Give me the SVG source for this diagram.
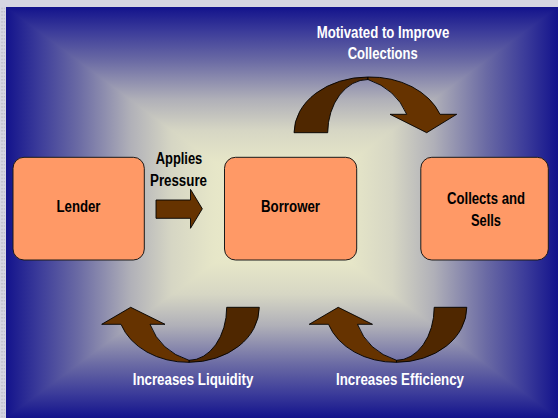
<svg xmlns="http://www.w3.org/2000/svg" width="558" height="418" viewBox="0 0 558 418">
  <defs>
    <!-- rectangular "from centre" backdrop: four triangles, each shaded from its edge to the centre -->
    <linearGradient id="bgTop" gradientUnits="userSpaceOnUse" x1="0" y1="7" x2="0" y2="212.5">
      <stop offset="0" stop-color="#13138c"/>
      <stop offset="0.12" stop-color="#3c3c9a"/>
      <stop offset="0.26" stop-color="#6a6aa4"/>
      <stop offset="0.45" stop-color="#b0b0b8"/>
      <stop offset="0.6" stop-color="#d6d6c4"/>
      <stop offset="0.75" stop-color="#e6e6c8"/>
      <stop offset="1" stop-color="#f0f0cc"/>
    </linearGradient>
    <linearGradient id="bgBottom" href="#bgTop" gradientUnits="userSpaceOnUse" x1="0" y1="418" x2="0" y2="212.5"/>
    <linearGradient id="bgLeft" href="#bgTop" gradientUnits="userSpaceOnUse" x1="6" y1="0" x2="282" y2="0"/>
    <linearGradient id="bgRight" href="#bgTop" gradientUnits="userSpaceOnUse" x1="558" y1="0" x2="282" y2="0"/>
    <pattern id="dots" patternUnits="userSpaceOnUse" x="0" y="0" width="6" height="3.4">
      <rect x="1.5" y="1" width="1" height="1.2" fill="#a8a8b4"/>
      <rect x="3.8" y="1" width="1" height="1.2" fill="#b4b4c0"/>
    </pattern>
    <!-- curved band arrow, dipping under and pointing up on the left -->
    <g id="curveArrowBL">
      <path class="back" d="M259.3,307.3 A70.3,55 0 0 1 189,362.3 L189,360.3 A37.7,53 0 0 0 226.7,307.3 Z"/>
      <path class="front" d="M189,362.3 A70.3,55 0 0 1 121,324.3 L101.7,324.3 L130.7,307.3 L165,324.3 L150,324.3 Q160,351 189,360.3 Z"/>
    </g>
  </defs>
  <style>
    .box { fill: #ff9966; stroke: #1a1a1a; stroke-width: 1; }
    .back { fill: #4f2700; stroke: #000; stroke-width: 0.9; stroke-linejoin: round; }
    .front { fill: #663300; stroke: #000; stroke-width: 0.9; stroke-linejoin: round; }
    .lbl { font-family: "Liberation Sans Narrow", "Liberation Sans", Arial, sans-serif; font-weight: bold; font-size: 16px; text-anchor: middle; }
    .dark { fill: #000; }
    .light { fill: #fff; }
  </style>

  <!-- frame -->
  <rect x="0" y="0" width="558" height="418" fill="#d6d6e2"/>
  <rect x="0" y="7" width="6" height="411" fill="url(#dots)"/>

  <!-- backdrop -->
  <g shape-rendering="crispEdges">
    <rect x="6" y="7" width="552" height="411" fill="#9a9ab6"/>
    <polygon points="6,7 558,7 282,212.5" fill="url(#bgTop)"/>
    <polygon points="6,418 558,418 282,212.5" fill="url(#bgBottom)"/>
    <polygon points="6,7 6,418 282,212.5" fill="url(#bgLeft)"/>
    <polygon points="558,7 558,418 282,212.5" fill="url(#bgRight)"/>
  </g>

  <!-- nodes -->
  <g id="lender">
    <rect class="box" x="13" y="157.3" width="131.3" height="102.7" rx="11" ry="11"/>
    <text class="lbl dark" x="78.5" y="211.7" textLength="44" lengthAdjust="spacingAndGlyphs">Lender</text>
  </g>
  <g id="borrower">
    <rect class="box" x="224.5" y="157.3" width="132.2" height="102.7" rx="11" ry="11"/>
    <text class="lbl dark" x="290.5" y="211.7" textLength="59" lengthAdjust="spacingAndGlyphs">Borrower</text>
  </g>
  <g id="collects">
    <rect class="box" x="420.8" y="157.3" width="127.5" height="102.7" rx="11" ry="11"/>
    <text class="lbl dark" x="486" y="204" textLength="78" lengthAdjust="spacingAndGlyphs">Collects and</text>
    <text class="lbl dark" x="486" y="226" textLength="30" lengthAdjust="spacingAndGlyphs">Sells</text>
  </g>

  <!-- connectors -->
  <g id="connectors">
    <g id="applies-pressure">
      <polygon class="front" points="156,200 190.5,200 190.5,189.3 202.3,208.8 190.5,228.3 190.5,218.3 156,218.3"/>
      <text class="lbl dark" x="179" y="164" textLength="46.6" lengthAdjust="spacingAndGlyphs">Applies</text>
      <text class="lbl dark" x="178.5" y="185.7" textLength="57" lengthAdjust="spacingAndGlyphs">Pressure</text>
    </g>
    <g id="motivated">
      <path class="back" d="M294,132.7 A74,56 0 0 1 368,77 L368,79.5 A40.3,53.5 0 0 0 327.7,132.7 Z"/>
      <path class="front" d="M368,77 A74,56 0 0 1 440,114.3 L456.7,114.3 L426.7,132.7 L390,114.3 L406.7,114.3 Q396,89 368,79.5 Z"/>
      <text class="lbl light" x="383" y="38.3" textLength="132.6" lengthAdjust="spacingAndGlyphs">Motivated to Improve</text>
      <text class="lbl light" x="382.7" y="59.3" textLength="70" lengthAdjust="spacingAndGlyphs">Collections</text>
    </g>
    <g id="liquidity">
      <use href="#curveArrowBL"/>
      <text class="lbl light" x="193" y="385.3" textLength="120.6" lengthAdjust="spacingAndGlyphs">Increases Liquidity</text>
    </g>
    <g id="efficiency">
      <use href="#curveArrowBL" transform="translate(207.5,0)"/>
      <text class="lbl light" x="400" y="385.3" textLength="128" lengthAdjust="spacingAndGlyphs">Increases Efficiency</text>
    </g>
  </g>
</svg>
